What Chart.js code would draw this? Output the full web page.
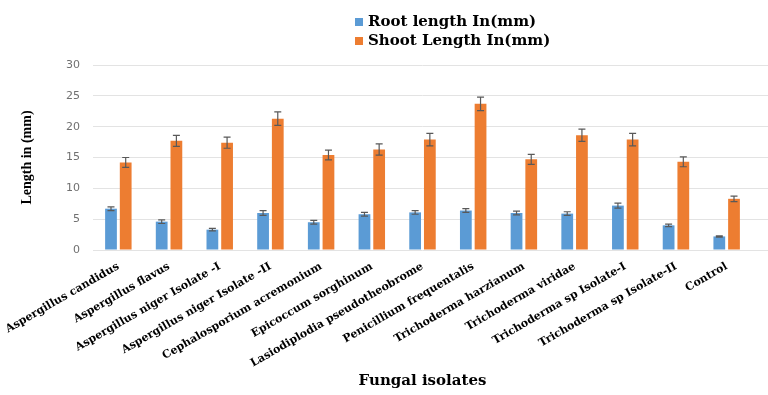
<!DOCTYPE html>
<html>
<head>
<meta charset="utf-8">
<script src="https://cdn.jsdelivr.net/npm/chart.js@4.4.1/dist/chart.umd.min.js"></script>
<style>
  html, body { margin: 0; padding: 0; background: #ffffff; }
  #wrap { position: relative; width: 768px; height: 395px; }
  #legend { position: absolute; left: 355px; top: 12px; font: bold 15px "DejaVu Serif", serif; color: #000; line-height: 19px; }
  #legend .row { display: flex; align-items: center; white-space: nowrap; }
  #legend .sw { display: inline-block; width: 8px; height: 8px; margin-right: 5px; }
</style>
</head>
<body>
<div id="wrap">
  <canvas id="c" width="768" height="395"></canvas>
  <div id="legend"></div>
</div>
<script>
const categories = [
  "Aspergillus candidus",
  "Aspergillus flavus",
  "Aspergillus niger Isolate -I",
  "Aspergillus niger Isolate -II",
  "Cephalosporium acremonium",
  "Epicoccum sorghinum",
  "Lasiodiplodia pseudotheobrome",
  "Penicillium frequentalis",
  "Trichoderma harzianum",
  "Trichoderma viridae",
  "Trichoderma sp Isolate-I",
  "Trichoderma sp Isolate-II",
  "Control"
];
const rootLength  = [6.7, 4.6, 3.3, 6.0, 4.5, 5.8, 6.1, 6.4, 6.0, 5.9, 7.2, 4.0, 2.2];
const rootError   = [0.3, 0.3, 0.2, 0.4, 0.3, 0.3, 0.3, 0.3, 0.3, 0.3, 0.4, 0.2, 0.1];
const shootLength = [14.2, 17.7, 17.4, 21.3, 15.4, 16.3, 17.9, 23.7, 14.7, 18.6, 17.9, 14.3, 8.3];
const shootError  = [0.8, 0.9, 0.9, 1.1, 0.8, 0.9, 1.0, 1.1, 0.8, 1.0, 1.0, 0.8, 0.45];
const seriesNames = ["Root length In(mm)", "Shoot Length In(mm)"];
const seriesColors = ["#5B9BD5", "#ED7D31"];
const yTicks = [0, 5, 10, 15, 20, 25, 30];

// HTML legend (two stacked rows)
const legendEl = document.getElementById('legend');
seriesNames.forEach((name, i) => {
  const row = document.createElement('div');
  row.className = 'row';
  const sw = document.createElement('span');
  sw.className = 'sw';
  sw.style.background = seriesColors[i];
  row.appendChild(sw);
  row.appendChild(document.createTextNode(name));
  legendEl.appendChild(row);
});

const errorBarPlugin = {
  id: 'errorBars',
  afterDatasetsDraw(chart) {
    const ctx = chart.ctx;
    const yScale = chart.scales.y;
    ctx.save();
    ctx.strokeStyle = '#595959';
    ctx.lineWidth = 1.2;
    chart.data.datasets.forEach((ds, i) => {
      const meta = chart.getDatasetMeta(i);
      meta.data.forEach((bar, j) => {
        const v = ds.data[j];
        const e = ds.errors[j];
        const yT = yScale.getPixelForValue(v + e);
        const yB = yScale.getPixelForValue(v - e);
        const x = bar.x;
        ctx.beginPath();
        ctx.moveTo(x, yT); ctx.lineTo(x, yB);
        ctx.moveTo(x - 3.5, yT); ctx.lineTo(x + 3.5, yT);
        ctx.moveTo(x - 3.5, yB); ctx.lineTo(x + 3.5, yB);
        ctx.stroke();
      });
    });
    ctx.restore();
  }
};

const gridExtendPlugin = {
  id: 'gridExtend',
  beforeDatasetsDraw(chart) {
    const ctx = chart.ctx;
    const yScale = chart.scales.y;
    const area = chart.chartArea;
    ctx.save();
    ctx.strokeStyle = '#e3e3e3';
    ctx.lineWidth = 1;
    yScale.ticks.forEach(t => {
      const y = Math.round(yScale.getPixelForValue(t.value) - 0.5) + 0.5;
      ctx.beginPath();
      ctx.moveTo(area.right - 1, y);
      ctx.lineTo(chart.width, y);
      ctx.stroke();
    });
    ctx.restore();
  }
};

new Chart(document.getElementById('c'), {
  type: 'bar',
  data: {
    labels: categories,
    datasets: [
      { label: seriesNames[0], data: rootLength, errors: rootError, backgroundColor: seriesColors[0],
        categoryPercentage: 0.58, barPercentage: 0.8 },
      { label: seriesNames[1], data: shootLength, errors: shootError, backgroundColor: seriesColors[1],
        categoryPercentage: 0.58, barPercentage: 0.8 }
    ]
  },
  options: {
    responsive: false,
    animation: false,
    layout: { padding: { top: 65, left: 19, right: 16, bottom: 0 } },
    plugins: {
      legend: { display: false },
      tooltip: { enabled: false }
    },
    scales: {
      y: {
        min: 0, max: 30,
        afterBuildTicks: (s) => { s.ticks = yTicks.map(v => ({ value: v })); },
        afterFit: (s) => { s.width = 74; },
        border: { display: false },
        grid: { color: '#e3e3e3', drawTicks: false },
        ticks: { padding: 13, color: '#707070', font: { family: 'DejaVu Sans', size: 11 } },
        title: {
          display: true, text: 'Length in (mm)', color: '#000',
          font: { family: 'Liberation Serif', size: 14, weight: 'bold' },
          padding: { top: 0, bottom: 0 }
        }
      },
      x: {
        afterFit: (s) => { s.height = 145; },
        border: { display: false },
        grid: { display: false },
        ticks: {
          maxRotation: 30, minRotation: 30, autoSkip: false, padding: 2,
          color: '#000', font: { family: 'DejaVu Serif', size: 11, weight: 'bold' }
        },
        title: {
          display: true, text: 'Fungal isolates', color: '#000',
          font: { family: 'DejaVu Serif', size: 15, weight: 'bold' },
          padding: { top: 0, bottom: 5 }
        }
      }
    }
  },
  plugins: [gridExtendPlugin, errorBarPlugin]
});
</script>
</body>
</html>
